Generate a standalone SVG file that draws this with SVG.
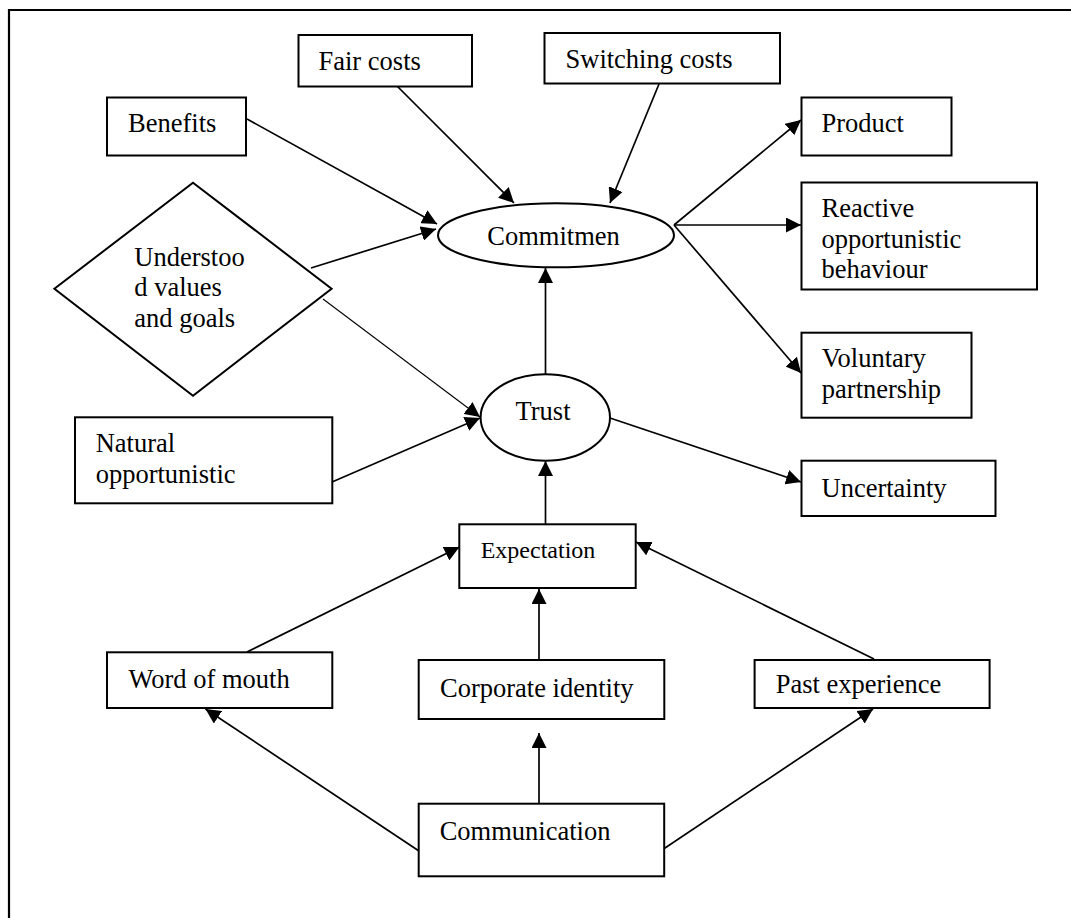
<svg xmlns="http://www.w3.org/2000/svg" width="1071" height="918" viewBox="0 0 1071 918">
  <style>
    .box { fill: #fff; stroke: #000; stroke-width: 2; }
    .lbl { font-family: "Liberation Serif", "Times New Roman", serif; font-size: 26.5px; fill: #000; }
    .sm { font-size: 24px; }
    .mid { text-anchor: middle; }
    .edge { fill: none; stroke: #000; stroke-width: 1.7; marker-end: url(#head); }
    .thin { stroke-width: 1.1; }
  </style>
  <defs>
    <marker id="head" markerUnits="userSpaceOnUse" markerWidth="15" markerHeight="15" refX="15" refY="7.5" orient="auto">
      <path d="M0,0 L15,7.5 L0,15 z" fill="#000"/>
    </marker>
  </defs>

  <rect width="1071" height="918" fill="#fff"/>
  <!-- outer frame (left and top edges visible) -->
  <path d="M9,918 V10 H1071" fill="none" stroke="#000" stroke-width="2.2"/>

  <g id="connectors">
    <path class="edge" d="M395,84 L514,203"/>
    <path class="edge" d="M659,84 L610,203"/>
    <path class="edge" d="M247,119 L437,224"/>
    <path class="edge" d="M311,268 L436,229"/>
    <path class="edge thin" d="M323,299 L480,417"/>
    <path class="edge" d="M332,482 L480,418"/>
    <path class="edge" d="M545.5,374 L545.5,268"/>
    <path class="edge" d="M674,225 L801,120"/>
    <path class="edge" d="M674,225 L801,225"/>
    <path class="edge" d="M674,225 L801,373"/>
    <path class="edge" d="M610,418 L801,482"/>
    <path class="edge" d="M545.5,524 L545.5,461"/>
    <path class="edge" d="M247,652 L459.5,547"/>
    <path class="edge" d="M539,660 L539,589"/>
    <path class="edge" d="M874,659 L636,542"/>
    <path class="edge" d="M419,851 L205.5,709"/>
    <path class="edge" d="M539,804 L539,733"/>
    <path class="edge" d="M659,852 L873,709"/>
  </g>

  <g id="fair-costs">
    <rect class="box" x="298.5" y="35" width="173.5" height="51.5"/>
    <text class="lbl" x="318.5" y="70">Fair costs</text>
  </g>
  <g id="switching-costs">
    <rect class="box" x="544.5" y="33" width="235.5" height="50.5"/>
    <text class="lbl" x="565.5" y="68">Switching costs</text>
  </g>
  <g id="benefits">
    <rect class="box" x="107" y="97.5" width="139" height="58"/>
    <text class="lbl" x="128" y="132">Benefits</text>
  </g>
  <g id="product">
    <rect class="box" x="801.5" y="97.5" width="150" height="58"/>
    <text class="lbl" x="821.5" y="132">Product</text>
  </g>
  <g id="reactive">
    <rect class="box" x="801.5" y="182.5" width="235.5" height="107"/>
    <text class="lbl" x="821.5" y="216.5">Reactive</text>
    <text class="lbl" x="821.5" y="247.5">opportunistic</text>
    <text class="lbl" x="821.5" y="277.5">behaviour</text>
  </g>
  <g id="commitment">
    <ellipse class="box" cx="556" cy="235.3" rx="118" ry="32"/>
    <text class="lbl mid" x="553.5" y="245">Commitmen</text>
  </g>
  <g id="values-goals">
    <polygon class="box" points="193,182.7 331.6,288.7 193,395.7 54.4,288.7"/>
    <text class="lbl" x="134.3" y="265.5">Understoo</text>
    <text class="lbl" x="134.3" y="296">d values</text>
    <text class="lbl" x="134.3" y="327">and goals</text>
  </g>
  <g id="trust">
    <ellipse class="box" cx="545.3" cy="417.5" rx="64.7" ry="43.2"/>
    <text class="lbl mid" x="543" y="420">Trust</text>
  </g>
  <g id="natural-opportunistic">
    <rect class="box" x="75" y="417.3" width="257.3" height="86"/>
    <text class="lbl" x="95.7" y="451.5">Natural</text>
    <text class="lbl" x="95.7" y="482.5">opportunistic</text>
  </g>
  <g id="voluntary">
    <rect class="box" x="801.5" y="332.7" width="170" height="85"/>
    <text class="lbl" x="821.8" y="366.5">Voluntary</text>
    <text class="lbl" x="821.8" y="398">partnership</text>
  </g>
  <g id="uncertainty">
    <rect class="box" x="801.5" y="460.7" width="194" height="55.3"/>
    <text class="lbl" x="821.5" y="496.5">Uncertainty</text>
  </g>
  <g id="expectation">
    <rect class="box" x="459.3" y="524.3" width="176.4" height="63.7"/>
    <text class="lbl sm" x="480.7" y="558">Expectation</text>
  </g>
  <g id="word-of-mouth">
    <rect class="box" x="107" y="652.3" width="225.3" height="55.7"/>
    <text class="lbl" x="128.4" y="688">Word of mouth</text>
  </g>
  <g id="corporate-identity">
    <rect class="box" x="418.7" y="660" width="245.6" height="59"/>
    <text class="lbl" x="440" y="696.5">Corporate identity</text>
  </g>
  <g id="past-experience">
    <rect class="box" x="754.6" y="660" width="235" height="48"/>
    <text class="lbl" x="775.7" y="693">Past experience</text>
  </g>
  <g id="communication">
    <rect class="box" x="418.7" y="803.7" width="245.5" height="72.6"/>
    <text class="lbl" x="439.7" y="840">Communication</text>
  </g>
</svg>
